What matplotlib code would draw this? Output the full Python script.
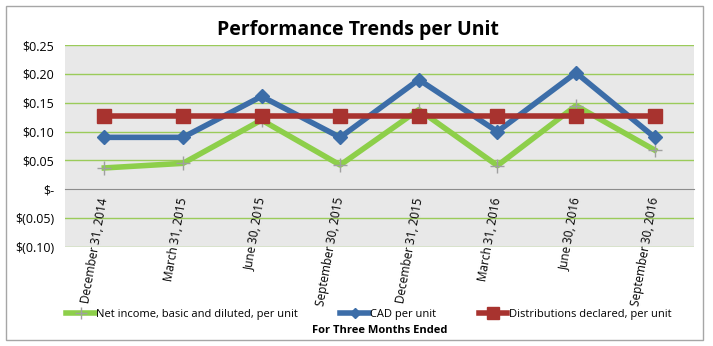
import numpy as np
import matplotlib
matplotlib.use("Agg")
import matplotlib.pyplot as plt
from matplotlib.patches import Rectangle
from matplotlib.lines import Line2D

# Data
periods = ["December 31, 2014", "March 31, 2015", "June 30, 2015", "September 30, 2015",
           "December 31, 2015", "March 31, 2016", "June 30, 2016", "September 30, 2016"]
net_income = [0.037, 0.045, 0.120, 0.042, 0.138, 0.041, 0.145, 0.068]
cad = [0.090, 0.090, 0.161, 0.090, 0.190, 0.100, 0.202, 0.090]
distributions = [0.1275, 0.1275, 0.1275, 0.1275, 0.1275, 0.1275, 0.1275, 0.1275]
y_ticks = [-0.10, -0.05, 0.0, 0.05, 0.10, 0.15, 0.20, 0.25]
y_labels = ["$(0.10)", "$(0.05)", "$-", "$0.05", "$0.10", "$0.15", "$0.20", "$0.25"]

plt.rcParams['font.family'] = ['Open Sans', 'DejaVu Sans']

green = '#8DCF4A'
blue = '#3C6DA8'
red = '#A8332F'

fig = plt.figure(figsize=(7.13, 3.46), dpi=100)
fig.patches.append(Rectangle((0.009, 0.017), 0.977, 0.965, transform=fig.transFigure,
                             fill=False, edgecolor='#A6A6A6', linewidth=1.0))

ax = fig.add_axes([0.0912, 0.2861, 0.8821, 0.5838])
ax.set_facecolor('#E8E8E8')
x = np.arange(len(periods))

# category axis crosses at zero (spine position must be set before tick styling)
for side in ['top', 'right', 'left']:
    ax.spines[side].set_visible(False)
ax.spines['bottom'].set_position(('data', 0))
ax.spines['bottom'].set_color('#8C8C8C')
ax.spines['bottom'].set_zorder(2)

for yv in y_ticks:
    if yv != 0:
        ax.axhline(yv, color='#9BCB5A', linewidth=1.0, zorder=1)

ax.plot(x, net_income, color=green, linewidth=4, marker='+', markersize=10,
        markeredgecolor='#A0A0A0', markeredgewidth=1.0, zorder=3)
ax.plot(x, cad, color=blue, linewidth=4, marker='D', markersize=7.5, zorder=4)
ax.plot(x, distributions, color=red, linewidth=4, marker='s', markersize=10, zorder=5)

ax.set_xlim(-0.5, len(periods) - 0.5)
ax.set_ylim(-0.10, 0.25)
ax.tick_params(axis='both', length=0)
ax.tick_params(axis='x', pad=6)
ax.tick_params(axis='y', pad=8)
ax.set_yticks(y_ticks)
ax.set_yticklabels(y_labels, fontsize=9)
ax.set_xticks(x)
ax.set_xticklabels(periods, fontsize=8.5, rotation=80, ha='right', va='center',
                   rotation_mode='anchor')

fig.text(0.502, 0.913, "Performance Trends per Unit", ha='center', va='center',
         fontsize=14, fontweight='bold')
fig.text(0.532, 0.046, "For Three Months Ended", ha='center', va='center',
         fontsize=8, fontweight='bold')

handles = [
    Line2D([], [], color=green, linewidth=4, marker='+', markersize=8, markeredgecolor='#A0A0A0'),
    Line2D([], [], color=blue, linewidth=4, marker='D', markersize=5),
    Line2D([], [], color=red, linewidth=4, marker='s', markersize=8),
]
labels = ["Net income, basic and diluted, per unit", "CAD per unit",
          "Distributions declared, per unit"]
fig.legend(handles, labels, loc='center', bbox_to_anchor=(0.517, 0.09), ncol=3,
           frameon=False, fontsize=8, handlelength=2.6, handletextpad=0.1,
           columnspacing=3.8)

fig.savefig("out.png", dpi=100)
